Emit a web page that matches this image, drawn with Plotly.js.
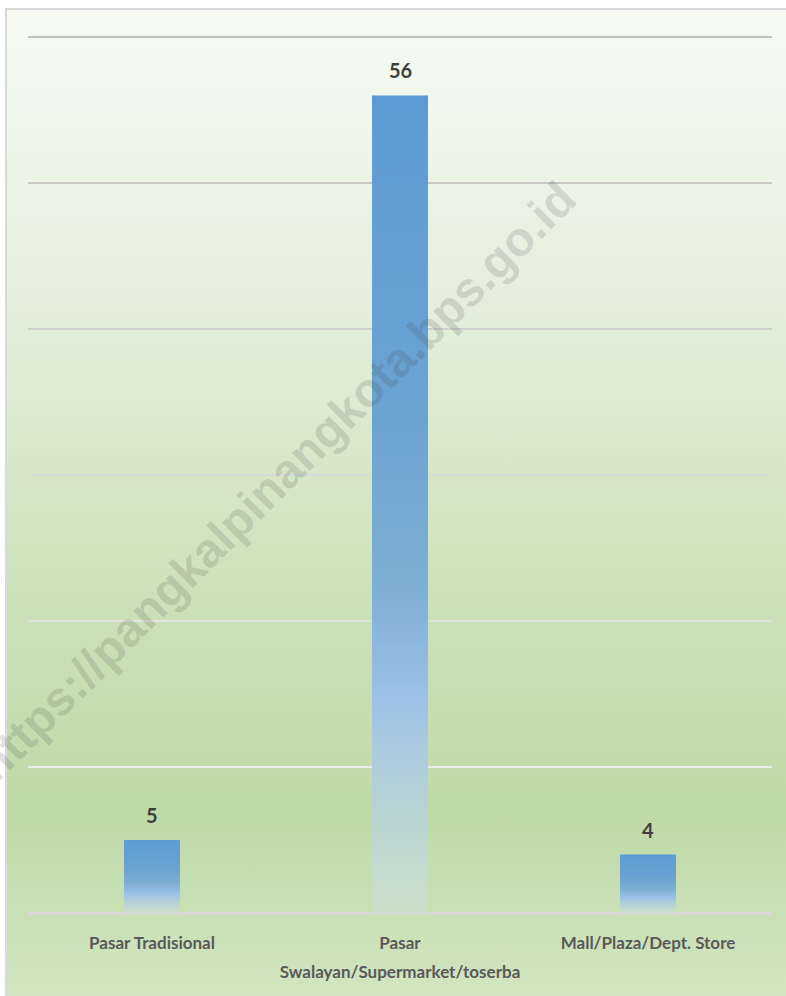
<!DOCTYPE html>
<html>
<head>
<meta charset="utf-8">
<script src="https://cdn.plot.ly/plotly-3.0.1.min.js"></script>
<style>
  html, body { margin: 0; padding: 0; background: #ffffff; }
  #wrap { position: relative; width: 786px; height: 996px; overflow: hidden; }
  #bg {
    position: absolute; left: 5px; top: 8px; width: 790px; height: 1000px;
    border-left: 2px solid #d9d9d9; border-top: 2px solid #d9d9d9;
    background: linear-gradient(to bottom, #f6faf3 0%, #e3efdb 30%, #cbe1b9 60%, #bedaa6 80%, #d3e6c4 100%);
  }
  #chart { position: absolute; left: 0; top: 0; width: 786px; height: 996px; }
</style>
</head>
<body>
<svg width="0" height="0" style="position:absolute">
  <defs>
    <linearGradient id="barFade" x1="0" y1="0" x2="0" y2="1">
      <stop offset="0" stop-color="#5b9bd5"/>
      <stop offset="0.4" stop-color="#6ca4d1"/>
      <stop offset="0.6" stop-color="#7eaed3"/>
      <stop offset="0.74" stop-color="#9dc2e6"/>
      <stop offset="0.84" stop-color="#b3cfd9"/>
      <stop offset="1" stop-color="#cce0c8"/>
    </linearGradient>
  </defs>
</svg>
<div id="wrap">
  <div id="bg"></div>
  <div id="chart"></div>
</div>
<script>
const categories = ['Pasar Tradisional', 'Pasar<br>Swalayan/Supermarket/toserba', 'Mall/Plaza/Dept. Store'];
const counts = [5, 56, 4];
const yTicks = [0, 10, 20, 30, 40, 50, 60];

const labelFont = 'Lato, Liberation Sans, Arial, sans-serif';

const trace = {
  type: 'bar',
  x: categories,
  y: counts,
  marker: { color: '#5b9bd5' },
  hoverinfo: 'x+y'
};

// value labels above bars
const valueLabels = categories.map((c, i) => ({
  x: c, y: counts[i], xref: 'x', yref: 'y',
  text: '<b>' + counts[i] + '</b>',
  showarrow: false, yanchor: 'bottom', yshift: 11,
  font: { family: labelFont, size: 20, color: '#404040' }
}));

const watermark = {
  xref: 'paper', yref: 'paper', x: 0.333, y: 0.492,
  xanchor: 'center', yanchor: 'middle',
  text: '<b>https://pangkalpinangkota.bps.go.id</b>',
  textangle: -45, showarrow: false,
  font: { family: 'Liberation Sans, Arial, sans-serif', size: 48, color: 'rgba(64,64,64,0.17)' }
};

const layout = {
  width: 786,
  height: 996,
  margin: { l: 28, r: 14, t: 36, b: 83 },
  paper_bgcolor: 'rgba(0,0,0,0)',
  plot_bgcolor: 'rgba(0,0,0,0)',
  bargap: 0.774,
  showlegend: false,
  xaxis: {
    type: 'category',
    showgrid: false,
    showline: false,
    ticks: '',
    tickfont: { family: labelFont, size: 17, color: '#595959', weight: 'bold' },
    ticklabelstandoff: 18
  },
  yaxis: {
    range: [0, 60.07],
    tickvals: yTicks,
    showticklabels: false,
    showgrid: true,
    gridcolor: '#cfcfcf',
    gridwidth: 2,
    zeroline: true,
    zerolinecolor: '#d9d9d9',
    zerolinewidth: 3
  },
  annotations: valueLabels.concat([watermark])
};

const chart = document.getElementById('chart');

// gridlines look grey on the pale top and whitish on the green bottom
function gridShade(y) {
  const t = Math.min(1, Math.max(0, (y - 37) / (767 - 37)));
  const top = [190, 190, 190], bot = [234, 238, 230];
  const c = top.map((v, k) => Math.round(v + (bot[k] - v) * t));
  return 'rgb(' + c.join(',') + ')';
}

function touchUp() {
  chart.querySelectorAll('.bars .point path').forEach(p => {
    p.style.fill = 'url(#barFade)';
  });
  chart.querySelectorAll('.gridlayer .y path').forEach(p => {
    const m = /translate\(\s*[-\d.]+\s*,\s*([-\d.]+)/.exec(p.getAttribute('transform') || '');
    if (m) p.style.stroke = gridShade(parseFloat(m[1]));
  });
  // wider gap between the two lines of the wrapped tick label
  chart.querySelectorAll('.xtick text tspan.line').forEach(t => {
    if (t.getAttribute('dy') && parseFloat(t.getAttribute('dy')) > 0) {
      t.setAttribute('dy', '1.7em');
    }
  });
}

Plotly.newPlot(chart, [trace], layout, { staticPlot: true }).then(() => {
  touchUp();
  chart.on('plotly_afterplot', touchUp);
});
</script>
</body>
</html>
